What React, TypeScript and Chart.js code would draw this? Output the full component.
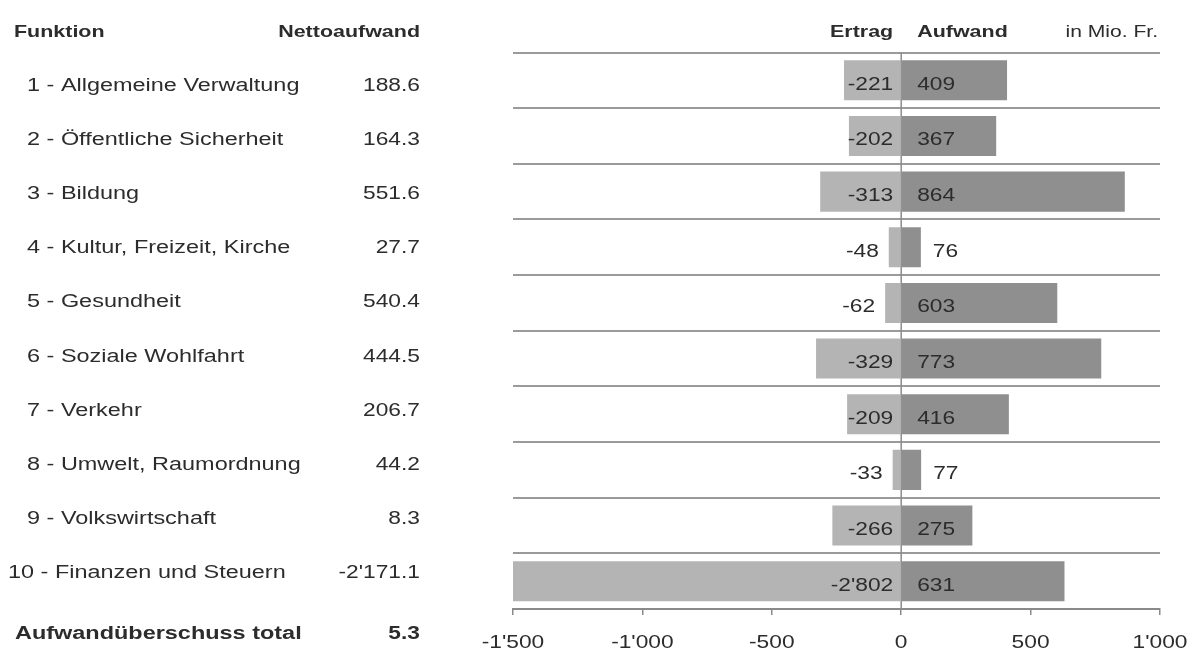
import React, { useEffect, useRef } from "react";
import { Chart, registerables } from "chart.js";

Chart.register(...registerables);

// ---- Data ----
const categories = [
  "1 - Allgemeine Verwaltung",
  "2 - Öffentliche Sicherheit",
  "3 - Bildung",
  "4 - Kultur, Freizeit, Kirche",
  "5 - Gesundheit",
  "6 - Soziale Wohlfahrt",
  "7 - Verkehr",
  "8 - Umwelt, Raumordnung",
  "9 - Volkswirtschaft",
  "10 - Finanzen und Steuern",
];
const nettoaufwand = [188.6, 164.3, 551.6, 27.7, 540.4, 444.5, 206.7, 44.2, 8.3, -2171.1];
const ertrag = [-221, -202, -313, -48, -62, -329, -209, -33, -266, -2802];
const aufwand = [409, 367, 864, 76, 603, 773, 416, 77, 275, 631];
const totalLabel = "Aufwandüberschuss total";
const totalValue = 5.3;
const xTicks = [-1500, -1000, -500, 0, 500, 1000];
const headerFunktion = "Funktion";
const headerNetto = "Nettoaufwand";
const headerErtrag = "Ertrag";
const headerAufwand = "Aufwand";
const headerUnit = "in Mio. Fr.";

// ---- Helpers ----
function fmt(v: number, d: number): string {
  const s = Math.abs(v).toFixed(d);
  const [i, f] = s.split(".");
  const g = i.replace(/\B(?=(\d{3})+(?!\d))/g, "'");
  return (v < 0 ? "-" : "") + g + (f ? "." + f : "");
}

const SX = 1.3;
const FONT = '"Liberation Sans", Arial, sans-serif';
const TEXT = "#2c2c2c";

function drawText(
  ctx: CanvasRenderingContext2D,
  text: string,
  x: number,
  y: number,
  align: CanvasTextAlign,
  font: string,
  sx: number = SX
) {
  ctx.save();
  ctx.font = font;
  ctx.fillStyle = TEXT;
  ctx.textAlign = align;
  ctx.textBaseline = "alphabetic";
  ctx.translate(x, y);
  ctx.scale(sx, 1);
  ctx.fillText(text, 0, 0);
  ctx.restore();
}

const tablePlugin = {
  id: "tablePlugin",
  afterDatasetsDraw(chart: any) {
    const ctx = chart.ctx as CanvasRenderingContext2D;
    const xs = chart.scales.x;
    const area = chart.chartArea;
    const x0 = xs.getPixelForValue(0);
    ctx.save();
    ctx.strokeStyle = "#8c8c8c";
    ctx.lineWidth = 1.5;
    ctx.beginPath();
    ctx.moveTo(x0, area.top);
    ctx.lineTo(x0, area.bottom);
    ctx.stroke();
    ctx.restore();
  },
  afterDraw(chart: any) {
    const ctx = chart.ctx as CanvasRenderingContext2D;
    const xs = chart.scales.x;
    const ys = chart.scales.y;
    const area = chart.chartArea;
    const x0 = xs.getPixelForValue(0);
    const reg = `17.5px ${FONT}`;
    const bold = `bold 16.5px ${FONT}`;

    // headers
    drawText(ctx, headerFunktion, 14, 36.5, "left", bold);
    drawText(ctx, headerNetto, 420, 36.5, "right", bold);
    drawText(ctx, headerErtrag, x0 - 8, 36.5, "right", bold);
    drawText(ctx, headerAufwand, x0 + 16, 36.5, "left", bold);
    drawText(ctx, headerUnit, area.right - 2, 36.5, "right", `17px ${FONT}`, 1.24);

    // left table
    const tableTop = 84;
    const step = 54.2;
    categories.forEach((c, i) => {
      const y = tableTop + step * i + 6.5;
      const num = c.split(" ")[0];
      const lx = 27 - (num.length - 1) * 19;
      drawText(ctx, c, lx, y, "left", reg, 1.34);
      drawText(ctx, fmt(nettoaufwand[i], 1), 420, y, "right", reg);
    });
    drawText(ctx, totalLabel, 15, 639, "left", `bold 17.5px ${FONT}`, 1.34);
    drawText(ctx, fmt(totalValue, 1), 420, 639, "right", `bold 17.5px ${FONT}`);

    // bar labels
    categories.forEach((_, i) => {
      const cy = ys.getPixelForValue(i) + 9.5;
      const e = ertrag[i];
      const a = aufwand[i];
      const ex = Math.abs(e) >= 100 ? x0 - 8 : xs.getPixelForValue(e) - 10;
      drawText(ctx, fmt(e, 0), ex, cy, "right", reg);
      const ax = Math.abs(a) >= 100 ? x0 + 16 : xs.getPixelForValue(a) + 12;
      drawText(ctx, fmt(a, 0), ax, cy, "left", reg);
    });

    // x tick labels
    xTicks.forEach((t) => {
      drawText(ctx, fmt(t, 0), xs.getPixelForValue(t), 648, "center", reg);
    });
  },
};

export default function App() {
  const ref = useRef<HTMLCanvasElement | null>(null);
  useEffect(() => {
    if (!ref.current) return;
    const chart = new Chart(ref.current, {
      type: "bar",
      data: {
        labels: categories,
        datasets: [
          {
            label: headerErtrag,
            data: ertrag,
            backgroundColor: "#b4b4b4",
            barPercentage: 0.72,
            categoryPercentage: 1,
            stack: "s",
          },
          {
            label: headerAufwand,
            data: aufwand,
            backgroundColor: "#8f8f8f",
            barPercentage: 0.72,
            categoryPercentage: 1,
            stack: "s",
          },
        ],
      },
      options: {
        indexAxis: "y",
        responsive: true,
        maintainAspectRatio: false,
        animation: false,
        layout: { padding: { left: 513, right: 32, top: 52.5, bottom: 41 } },
        plugins: { legend: { display: false }, tooltip: { enabled: false } },
        scales: {
          x: {
            type: "linear",
            min: -1500,
            max: 1000,
            stacked: true,
            ticks: { stepSize: 500, display: false },
            grid: {
              drawOnChartArea: false,
              drawTicks: true,
              tickLength: 6,
              color: "#8a8a8a",
              lineWidth: 1.5,
            },
            border: { display: true, color: "#8a8a8a", width: 2 },
            afterFit: (s: any) => {
              s.height = 0;
            },
          },
          y: {
            type: "category",
            stacked: true,
            ticks: { display: false },
            grid: { offset: true, color: "#9a9a9a", lineWidth: 2, drawTicks: false },
            border: { display: false },
            afterFit: (s: any) => {
              s.width = 0;
            },
          },
        },
      } as any,
      plugins: [tablePlugin],
    });
    return () => chart.destroy();
  }, []);

  return (
    <div style={{ position: "absolute", left: 0, top: 0, width: 1192, height: 650, background: "#fff" }}>
      <canvas ref={ref} />
    </div>
  );
}
